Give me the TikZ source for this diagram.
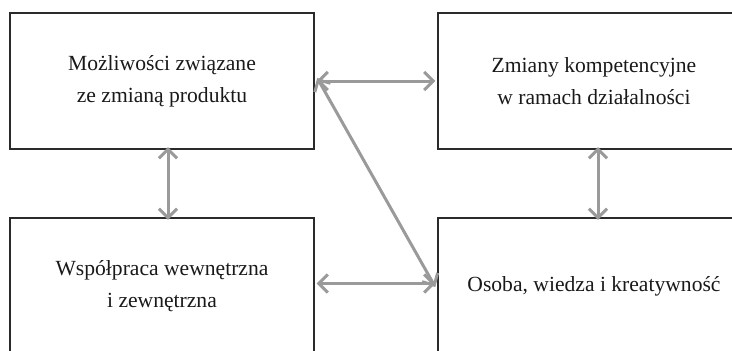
\documentclass[tikz,border=0pt]{standalone}
\usepackage{fontspec}
\setmainfont{Liberation Serif}
\usetikzlibrary{arrows.meta}
\definecolor{boxline}{HTML}{2A2A2A}
\definecolor{arrowgray}{HTML}{9A9A9A}
\tikzset{
  box/.style={draw=boxline, line width=1.4pt, rectangle, minimum height=136pt, align=center, font=\fontsize{21.6}{32}\selectfont, text=black!90},
  link/.style={draw=arrowgray, line width=3pt, {Straight Barb[length=9pt,width=18pt]}-{Straight Barb[length=9pt,width=18pt]}}
}
\begin{document}
\begin{tikzpicture}[x=1pt,y=-1pt]
\useasboundingbox (0,0) rectangle (732,351);
\clip (0,0) rectangle (732,351);
\node[box, minimum width=304pt] (tl) at (162,81) {Możliwości związane\\ze zmianą produktu};
\node[box, minimum width=312pt] (tr) at (594,81) {Zmiany kompetencyjne\\w ramach działalności};
\node[box, minimum width=304pt] (bl) at (162,286) {Współpraca wewnętrzna\\i zewnętrzna};
\node[box, minimum width=312pt] (br) at (594,286) {Osoba, wiedza i kreatywność};
\draw[link] ([xshift=2pt]tl.east) -- ([xshift=-2pt]tr.west);
\draw[link] ([shift={(2pt,2.5pt)}]bl.east) -- ([shift={(-2pt,2.5pt)}]br.west);
\draw[link] ([shift={(2.5pt,3pt)}]tl.east) -- ([shift={(-2pt,-1pt)}]br.west);
\draw[link] ([shift={(6pt,2.5pt)}]tl.south) -- ([shift={(6pt,-2.5pt)}]bl.north);
\draw[link] ([shift={(4pt,2.5pt)}]tr.south) -- ([shift={(4pt,-2.5pt)}]br.north);
\end{tikzpicture}
\end{document}
